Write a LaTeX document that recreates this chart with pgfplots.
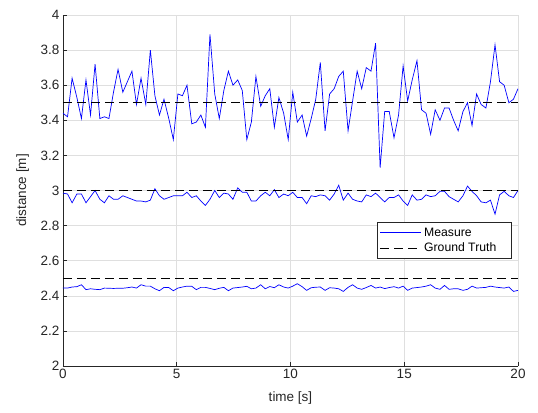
\documentclass[border=0pt]{standalone}
\usepackage{fontspec}
\setmainfont{Liberation Sans}
\usepackage{pgfplots}
\usepackage{pgfplotstable}
\pgfplotsset{compat=1.18}
\usetikzlibrary{calc}

\definecolor{axgray}{RGB}{38,38,38}
\definecolor{gridgray}{RGB}{223,223,223}
\newcommand{\chartfont}{\fontsize{13.5bp}{16bp}\selectfont}
\newcommand{\legfont}{\fontsize{12.2bp}{14bp}\selectfont}

% t, measure at 3.5 m, at 3.0 m, at 2.5 m
\pgfplotstableread{
t     a     b      c
0.00  3.44  2.985  2.444
0.20  3.42  2.980  2.444
0.40  3.64  2.930  2.450
0.61  3.53  2.980  2.452
0.81  3.41  2.980  2.463
1.01  3.63  2.930  2.435
1.21  3.43  2.965  2.440
1.41  3.72  3.000  2.437
1.62  3.41  2.950  2.435
1.82  3.42  2.930  2.444
2.02  3.41  2.970  2.443
2.22  3.56  2.950  2.442
2.42  3.69  2.950  2.443
2.63  3.56  2.970  2.443
2.83  3.62  2.960  2.446
3.03  3.68  2.950  2.450
3.23  3.49  2.940  2.444
3.43  3.64  2.940  2.463
3.64  3.49  2.935  2.455
3.84  3.80  2.945  2.455
4.04  3.54  3.010  2.440
4.24  3.43  2.970  2.429
4.44  3.52  2.950  2.448
4.65  3.41  2.960  2.447
4.85  3.29  2.970  2.429
5.05  3.55  2.970  2.444
5.25  3.54  2.970  2.450
5.45  3.60  2.990  2.455
5.66  3.38  2.960  2.454
5.86  3.39  2.970  2.435
6.06  3.43  2.940  2.448
6.26  3.36  2.915  2.448
6.46  3.89  2.950  2.442
6.67  3.55  3.000  2.435
6.87  3.41  2.960  2.443
7.07  3.57  2.985  2.448
7.27  3.68  2.980  2.429
7.47  3.60  2.950  2.444
7.68  3.63  3.015  2.447
7.88  3.57  2.990  2.450
8.08  3.29  2.990  2.454
8.28  3.39  2.940  2.440
8.48  3.65  2.940  2.444
8.69  3.48  2.970  2.463
8.89  3.54  2.990  2.440
9.09  3.58  2.970  2.453
9.29  3.36  3.005  2.446
9.49  3.53  2.960  2.463
9.70  3.44  2.980  2.450
9.90  3.29  2.970  2.444
10.10 3.56  2.990  2.455
10.30 3.39  2.960  2.469
10.51 3.43  2.960  2.452
10.71 3.31  2.925  2.431
10.91 3.41  2.970  2.446
11.11 3.52  2.965  2.449
11.31 3.73  2.975  2.450
11.52 3.34  2.970  2.431
11.72 3.55  2.945  2.446
11.92 3.58  2.980  2.444
12.12 3.65  3.030  2.440
12.32 3.68  2.945  2.425
12.53 3.34  2.985  2.448
12.73 3.51  2.950  2.463
12.93 3.68  2.940  2.444
13.13 3.58  2.935  2.437
13.33 3.70  2.975  2.447
13.54 3.68  2.965  2.459
13.74 3.84  2.985  2.444
13.94 3.13  2.960  2.450
14.14 3.45  2.935  2.441
14.34 3.45  2.960  2.447
14.55 3.30  2.960  2.452
14.75 3.43  2.975  2.444
14.95 3.71  2.940  2.455
15.15 3.51  2.915  2.431
15.35 3.63  2.975  2.444
15.56 3.74  2.945  2.447
15.76 3.46  2.950  2.450
15.96 3.44  2.975  2.455
16.16 3.32  2.965  2.463
16.36 3.46  2.970  2.444
16.57 3.40  2.995  2.437
16.77 3.47  2.995  2.459
16.97 3.47  2.965  2.437
17.17 3.40  2.950  2.440
17.37 3.34  2.935  2.440
17.58 3.45  2.970  2.431
17.78 3.50  3.025  2.437
17.98 3.37  2.995  2.455
18.18 3.55  2.970  2.444
18.38 3.49  2.935  2.446
18.59 3.47  2.930  2.448
18.79 3.62  2.945  2.455
18.99 3.83  2.865  2.450
19.19 3.62  2.975  2.447
19.39 3.60  2.995  2.444
19.60 3.50  2.970  2.450
19.80 3.52  2.960  2.425
20.00 3.58  3.000  2.431
}\measured

\begin{document}
\begin{tikzpicture}
\begin{axis}[
    name=ax,
    scale only axis,
    width=455bp, height=351bp,
    xmin=0, xmax=20, ymin=2, ymax=4,
    xtick={0,5,10,15,20},
    ytick={2,2.2,2.4,2.6,2.8,3,3.2,3.4,3.6,3.8,4},
    axis x line*=bottom, axis y line*=left,
    axis line style={axgray, line width=0.6bp},
    tick style={axgray, line width=0.6bp},
    major tick length=4bp,
    grid=major,
    major grid style={gridgray, line width=0.6bp},
    ticklabel style={text=axgray, font=\chartfont},
    /pgf/number format/assume math mode=true,
    xlabel={time [s]}, ylabel={distance [m]},
    label style={text=axgray, font=\chartfont},
    xlabel style={yshift=-6bp},
    ylabel style={yshift=5bp},
    legend style={at={(rel axis cs:0.987,0.41)}, anchor=north east,
        draw=axgray, line width=0.6bp, fill=white, inner xsep=3bp, inner ysep=3bp,
        font=\legfont, row sep=0bp,
        nodes={inner sep=2.5bp}},
    legend cell align=left,
    legend image code/.code={\draw[#1] (-2bp,0bp) -- (39bp,0bp);},
]
\addplot[blue, line width=0.7bp] table[x=t, y=a] {\measured};
\addlegendentry{Measure}
\addplot[black, line width=0.7bp, dash pattern=on 9bp off 5bp] coordinates {(0,3.5) (20,3.5)};
\addlegendentry{Ground Truth\kern10bp}
\addplot[blue, line width=0.7bp, forget plot] table[x=t, y=b] {\measured};
\addplot[blue, line width=0.7bp, forget plot] table[x=t, y=c] {\measured};
\addplot[black, line width=0.7bp, dash pattern=on 9bp off 5bp, forget plot] coordinates {(0,3) (20,3)};
\addplot[black, line width=0.7bp, dash pattern=on 9bp off 5bp, forget plot] coordinates {(0,2.5) (20,2.5)};
\end{axis}
\pgfresetboundingbox
\useasboundingbox ($(ax.south west)+(-63bp,-47bp)$) rectangle ($(ax.north east)+(20bp,15bp)$);
\end{tikzpicture}
\end{document}
